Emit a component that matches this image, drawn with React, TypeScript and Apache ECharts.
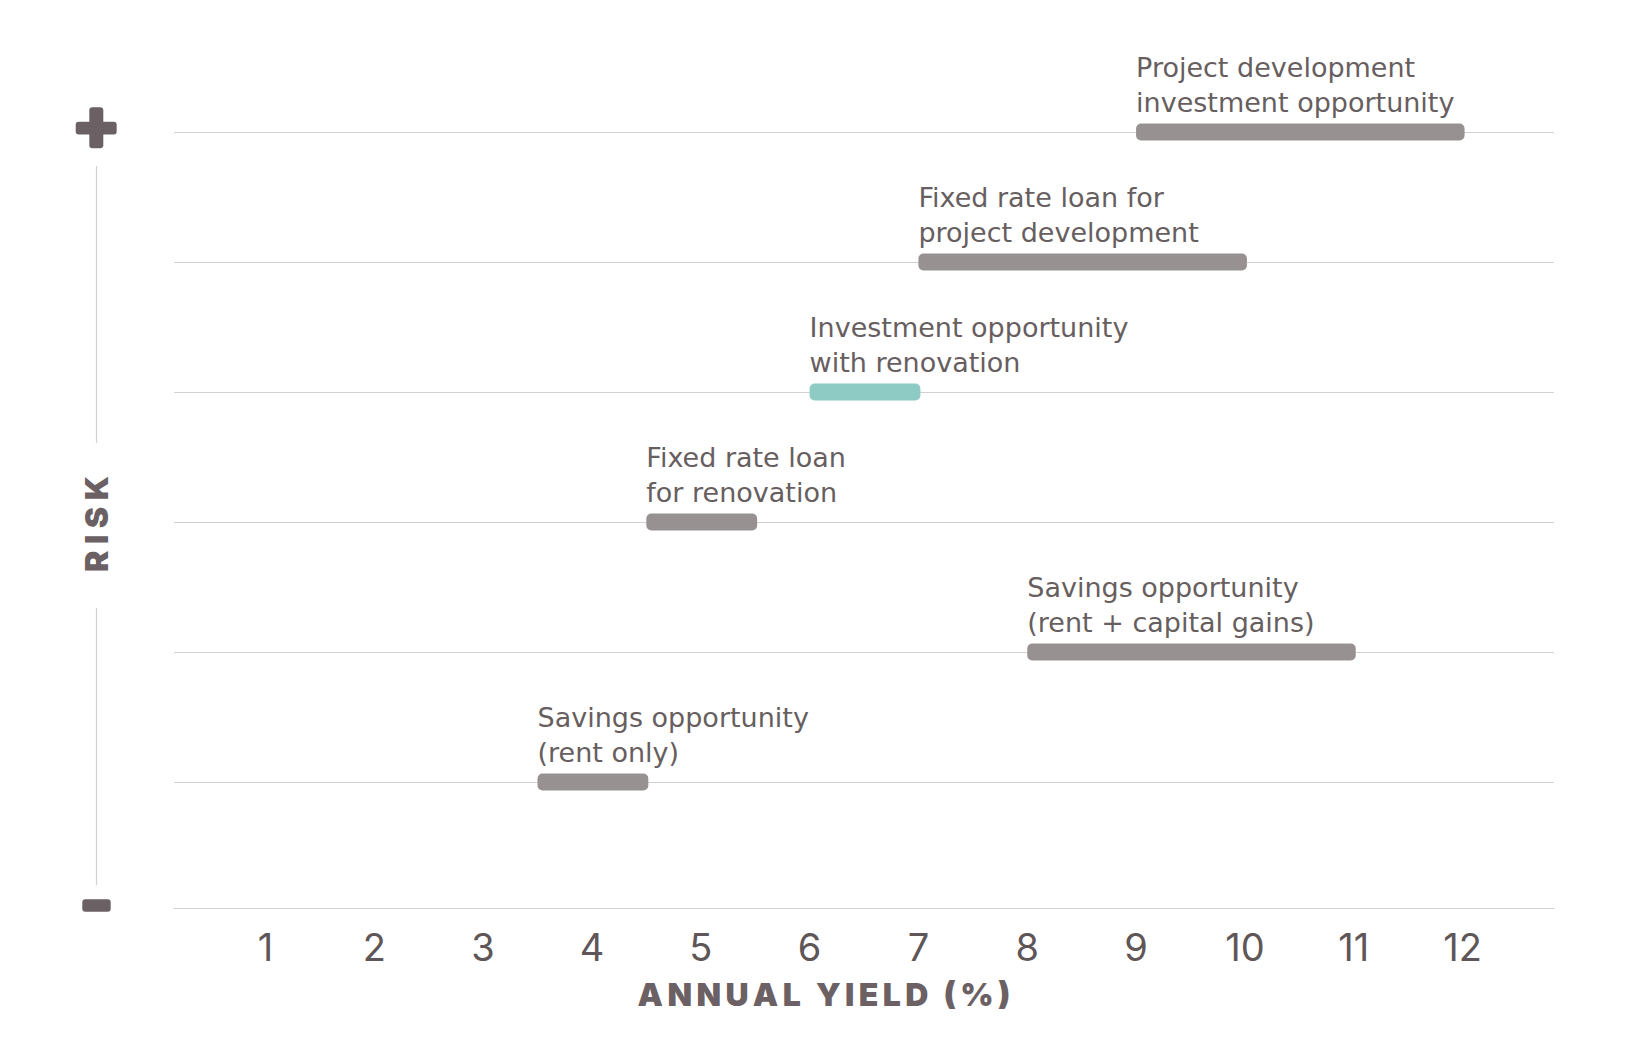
import React, { useEffect, useRef } from "react";
import * as echarts from "echarts";

const levels = [6, 5, 4, 3, 2, 1];
const itemLabels = [
  "Project development\ninvestment opportunity",
  "Fixed rate loan for\nproject development",
  "Investment opportunity\nwith renovation",
  "Fixed rate loan\nfor renovation",
  "Savings opportunity\n(rent + capital gains)",
  "Savings opportunity\n(rent only)",
];
const yieldStart = [9, 7, 6, 4.5, 8, 3.5];
const yieldEnd = [12, 10, 7, 5.5, 11, 4.5];
const highlighted = [false, false, true, false, false, false];
const xTicks = [1, 2, 3, 4, 5, 6, 7, 8, 9, 10, 11, 12];

const TS = "\u2009";
const spaced = (s: string) => s.split("").join(TS);

const FONT = "Inter, 'Noto Sans', sans-serif";
const LABEL_FONT = "'DejaVu Sans', 'Noto Sans', sans-serif";
const TEXT = "#675e60";
const DARK = "#6b6063";
const BAR = "#979191";
const TEAL = "#8ecbc5";
const LINE = "#d4d0d0";

export default function App() {
  const ref = useRef<HTMLDivElement>(null);
  useEffect(() => {
    if (!ref.current) return;
    const chart = echarts.init(ref.current, null, { renderer: "svg" });
    const data = levels.map((lv, i) => [yieldStart[i], lv, yieldEnd[i]]);
    chart.setOption({
      animation: false,
      grid: { left: 174, right: 85, top: 132, bottom: 144 },
      xAxis: {
        type: "value",
        min: 0.16,
        max: 12.84,
        axisLine: { show: true, lineStyle: { color: LINE, width: 1 } },
        axisTick: { show: false },
        splitLine: { show: false },
        axisLabel: {
          customValues: xTicks,
          fontSize: 38,
          fontFamily: FONT,
          color: "#5f5658",
          margin: 20,
        },
      },
      yAxis: {
        type: "value",
        min: 0.031,
        max: 6,
        axisLine: { show: false },
        axisTick: { show: false },
        axisLabel: { show: false },
        splitLine: { show: false },
      },
      graphic: [
        { type: "rect", shape: { x: 75.7, y: 121.7, width: 41, height: 12.7, r: 3 }, style: { fill: DARK } },
        { type: "rect", shape: { x: 89.3, y: 107.3, width: 14, height: 41, r: 3 }, style: { fill: DARK } },
        { type: "rect", shape: { x: 82.3, y: 899.3, width: 28.4, height: 12.4, r: 3 }, style: { fill: DARK } },
        { type: "line", shape: { x1: 96.5, y1: 166, x2: 96.5, y2: 443 }, style: { stroke: LINE, lineWidth: 1.2 } },
        { type: "line", shape: { x1: 96.5, y1: 608, x2: 96.5, y2: 885 }, style: { stroke: LINE, lineWidth: 1.2 } },
        {
          type: "text",
          x: 96.7,
          y: 524,
          rotation: Math.PI / 2,
          style: {
            text: "R" + TS + "\u200A" + "I" + TS + "\u200A" + "S" + TS + "\u200A" + "K",
            fontSize: 32,
            fontWeight: 900,
            fontFamily: FONT,
            fill: DARK,
            align: "center",
            verticalAlign: "middle",
          },
        },
        {
          type: "text",
          x: 824,
          y: 994,
          style: {
            text: spaced("ANNUAL YIELD (%)"),
            fontSize: 32,
            fontWeight: 900,
            fontFamily: FONT,
            fill: DARK,
            align: "center",
            verticalAlign: "middle",
          },
        },
      ],
      series: [
        {
          type: "line",
          data: [],
          z: 1,
          markLine: {
            silent: true,
            symbol: "none",
            label: { show: false },
            lineStyle: { color: LINE, width: 1, type: "solid" },
            data: levels.map((lv) => ({ yAxis: lv })),
          },
        },
        {
          type: "custom",
          z: 5,
          data,
          encode: { x: [0, 2], y: 1 },
          renderItem: (params: any, api: any) => {
            const i = params.dataIndex;
            const p0 = api.coord([api.value(0), api.value(1)]);
            const p1 = api.coord([api.value(2), api.value(1)]);
            return {
              type: "group",
              children: [
                {
                  type: "rect",
                  shape: { x: p0[0], y: p0[1] - 8.5, width: p1[0] - p0[0] + 2, height: 17, r: 5 },
                  style: { fill: highlighted[i] ? TEAL : BAR },
                },
                {
                  type: "text",
                  x: p0[0],
                  y: p0[1] - 11.5,
                  style: {
                    text: itemLabels[i],
                    fontSize: 27,
                    fontFamily: LABEL_FONT,
                    fill: TEXT,
                    align: "left",
                    verticalAlign: "bottom",
                    lineHeight: 35.5,
                  },
                },
              ],
            };
          },
        },
      ],
    });
    return () => chart.dispose();
  }, []);
  return <div ref={ref} style={{ width: 1639, height: 1052, margin: -8 }} />;
}
